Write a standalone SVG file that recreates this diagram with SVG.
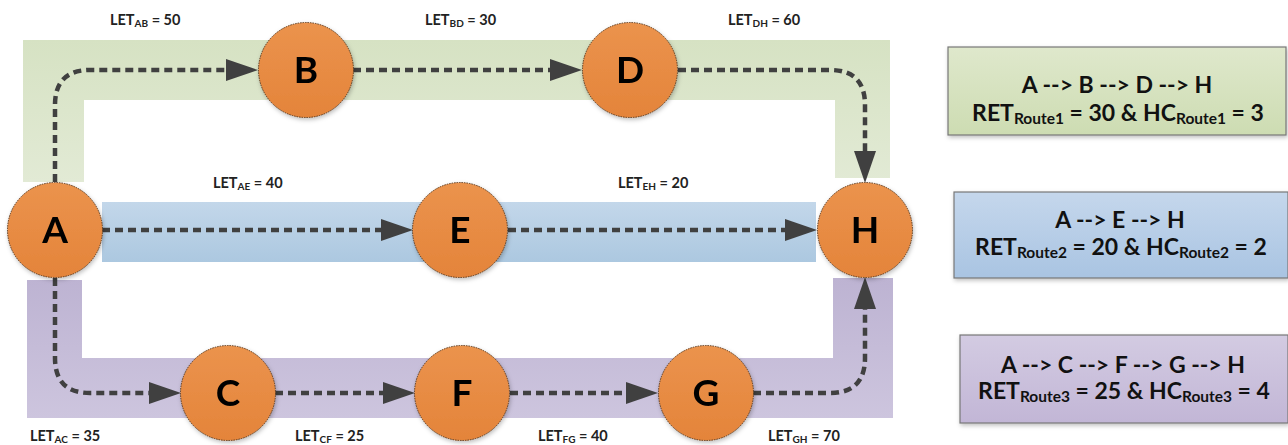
<svg xmlns="http://www.w3.org/2000/svg" width="1288" height="445" viewBox="0 0 1288 445">
<defs>
<style>
.node circle{fill:url(#og);stroke:#5a3a20;stroke-width:1;stroke-dasharray:1.5 1}
.node text{font-family:Lato,"Open Sans",sans-serif;font-weight:bold;font-size:37px;fill:#000;text-anchor:middle}
.conn{fill:none;stroke:#404040;stroke-width:4.5;stroke-dasharray:8 5}
.lbl{font-family:Lato,"Open Sans",sans-serif;font-weight:bold;font-size:14.5px;fill:#222}
.box text{font-family:Lato,"Open Sans",sans-serif;font-weight:bold;font-size:23px;fill:#111;text-anchor:middle}
.box rect{stroke:#777;stroke-width:1.2}
</style>
<linearGradient id="og" x1="0" y1="0" x2="0" y2="1"><stop offset="0" stop-color="#eb934d"/><stop offset="1" stop-color="#e4843a"/></linearGradient>
<linearGradient id="gg" x1="0" y1="0" x2="0" y2="1"><stop offset="0" stop-color="#d6e2c3"/><stop offset="1" stop-color="#e2ead5"/></linearGradient>
<linearGradient id="bg" x1="0" y1="0" x2="0" y2="1"><stop offset="0" stop-color="#c3d7ea"/><stop offset="1" stop-color="#acc8e0"/></linearGradient>
<linearGradient id="pg" x1="0" y1="0" x2="0" y2="1"><stop offset="0" stop-color="#bdb3d2"/><stop offset="1" stop-color="#cdc5de"/></linearGradient>
<linearGradient id="bx1" x1="0" y1="0" x2="0" y2="1"><stop offset="0" stop-color="#dfe8cc"/><stop offset="1" stop-color="#cddcb2"/></linearGradient>
<linearGradient id="bx2" x1="0" y1="0" x2="0" y2="1"><stop offset="0" stop-color="#c5d7ec"/><stop offset="1" stop-color="#a9c4e2"/></linearGradient>
<linearGradient id="bx3" x1="0" y1="0" x2="0" y2="1"><stop offset="0" stop-color="#d3cbe2"/><stop offset="1" stop-color="#c2b6d6"/></linearGradient>
<filter id="sh" x="-20%" y="-20%" width="140%" height="140%"><feDropShadow dx="1" dy="2" stdDeviation="2" flood-color="#000" flood-opacity="0.25"/></filter>
<marker id="ah" viewBox="0 0 32 22" refX="1" refY="11" markerWidth="32" markerHeight="22" orient="auto" markerUnits="userSpaceOnUse">
<path d="M0,0 L32,11 L0,22 Z" fill="#404040"/>
</marker>
</defs>
<rect width="1288" height="445" fill="#fff"/>
<g id="bands">
<path d="M23,40 H890 V178 H835 V100 H84 V182 H23 Z" fill="url(#gg)"/>
<rect x="102" y="202" width="714" height="60" fill="url(#bg)"/>
<path d="M27,280 H82 V358 H833 V278 H893 V418 H27 Z" fill="url(#pg)"/>
</g>
<g id="connectors">
<path class="conn" marker-end="url(#ah)" d="M55,182 V105 Q55,70 90,70 H227"/>
<path class="conn" marker-end="url(#ah)" d="M353,70 H551"/>
<path class="conn" marker-end="url(#ah)" d="M678,70 H830 Q865,70 865,105 V152"/>
<path class="conn" marker-end="url(#ah)" d="M102,230 H382"/>
<path class="conn" marker-end="url(#ah)" d="M508,230 H786"/>
<path class="conn" marker-end="url(#ah)" d="M55,278 V358 Q55,393 90,393 H150"/>
<path class="conn" marker-end="url(#ah)" d="M275,393 H384"/>
<path class="conn" marker-end="url(#ah)" d="M510,393 H627"/>
<path class="conn" marker-end="url(#ah)" d="M753,393 H830 Q865,393 865,358 V308"/>
</g>
<g id="labels">
<text class="lbl" x="110" y="25">LET<tspan font-size="10" dy="2">AB</tspan><tspan dy="-2"> = 50</tspan></text>
<text class="lbl" x="425" y="25">LET<tspan font-size="10" dy="2">BD</tspan><tspan dy="-2"> = 30</tspan></text>
<text class="lbl" x="728" y="25">LET<tspan font-size="10" dy="2">DH</tspan><tspan dy="-2"> = 60</tspan></text>
<text class="lbl" x="213" y="188">LET<tspan font-size="10" dy="2">AE</tspan><tspan dy="-2"> = 40</tspan></text>
<text class="lbl" x="618" y="188">LET<tspan font-size="10" dy="2">EH</tspan><tspan dy="-2"> = 20</tspan></text>
<text class="lbl" x="30" y="441">LET<tspan font-size="10" dy="2">AC</tspan><tspan dy="-2"> = 35</tspan></text>
<text class="lbl" x="295" y="441">LET<tspan font-size="10" dy="2">CF</tspan><tspan dy="-2"> = 25</tspan></text>
<text class="lbl" x="538" y="441">LET<tspan font-size="10" dy="2">FG</tspan><tspan dy="-2"> = 40</tspan></text>
<text class="lbl" x="768" y="441">LET<tspan font-size="10" dy="2">GH</tspan><tspan dy="-2"> = 70</tspan></text>
</g>
<g id="node-A" class="node" filter="url(#sh)"><circle cx="55" cy="230" r="47.5"/><text x="55" y="243">A</text></g>
<g id="node-B" class="node" filter="url(#sh)"><circle cx="306" cy="70" r="47.5"/><text x="306" y="83">B</text></g>
<g id="node-D" class="node" filter="url(#sh)"><circle cx="630" cy="70" r="47.5"/><text x="630" y="83">D</text></g>
<g id="node-E" class="node" filter="url(#sh)"><circle cx="460" cy="230" r="47.5"/><text x="460" y="243">E</text></g>
<g id="node-H" class="node" filter="url(#sh)"><circle cx="865" cy="230" r="47.5"/><text x="865" y="243">H</text></g>
<g id="node-C" class="node" filter="url(#sh)"><circle cx="228" cy="393" r="47.5"/><text x="228" y="406">C</text></g>
<g id="node-F" class="node" filter="url(#sh)"><circle cx="462" cy="393" r="47.5"/><text x="462" y="406">F</text></g>
<g id="node-G" class="node" filter="url(#sh)"><circle cx="706" cy="393" r="47.5"/><text x="706" y="406">G</text></g>
<g id="route1" class="box">
<rect x="948" y="47" width="338" height="88" fill="url(#bx1)" filter="url(#sh)"/>
<text x="1117" y="93">A --&gt; B --&gt; D --&gt; H</text>
<text x="1118" y="121">RET<tspan font-size="15.5" dy="3">Route1</tspan><tspan dy="-3"> = 30 &amp; HC</tspan><tspan font-size="15.5" dy="3">Route1</tspan><tspan dy="-3"> = 3</tspan></text>
</g>
<g id="route2" class="box">
<rect x="954" y="192" width="334" height="86" fill="url(#bx2)" filter="url(#sh)"/>
<text x="1120" y="228">A --&gt; E --&gt; H</text>
<text x="1121" y="255">RET<tspan font-size="15.5" dy="3">Route2</tspan><tspan dy="-3"> = 20 &amp; HC</tspan><tspan font-size="15.5" dy="3">Route2</tspan><tspan dy="-3"> = 2</tspan></text>
</g>
<g id="route3" class="box">
<rect x="960" y="335" width="328" height="88" fill="url(#bx3)" filter="url(#sh)"/>
<text x="1123" y="373">A --&gt; C --&gt; F --&gt; G --&gt; H</text>
<text x="1124" y="399">RET<tspan font-size="15.5" dy="3">Route3</tspan><tspan dy="-3"> = 25 &amp; HC</tspan><tspan font-size="15.5" dy="3">Route3</tspan><tspan dy="-3"> = 4</tspan></text>
</g>
</svg>
